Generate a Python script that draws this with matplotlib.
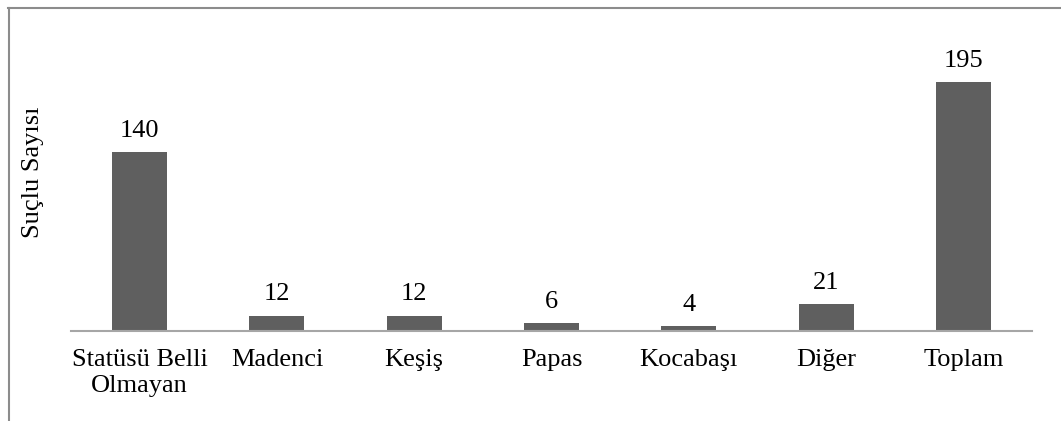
import matplotlib.pyplot as plt
from matplotlib.lines import Line2D

categories = ["Statüsü Belli\nOlmayan", "Madenci", "Keşiş", "Papas", "Kocabaşı", "Diğer", "Toplam"]
counts = [140, 12, 12, 6, 4, 21, 195]

plt.rcParams['font.family'] = ['Liberation Serif', 'DejaVu Serif']

W, H = 1061, 421
fs = 19
fig = plt.figure(figsize=(W / 100, H / 100), dpi=100)
ax = fig.add_axes([71 / W, 90 / H, (1032 - 71) / W, 319.5 / H])

x = range(len(categories))
ax.bar(x, counts, width=0.4, color='#5f5f5f')
for i, v in zip(x, counts):
    ax.text(i, v + 8, str(v), ha='center', va='bottom', fontsize=fs)

ax.set_xlim(-0.5, len(categories) - 0.5)
ax.set_ylim(0, 250)
ax.set_xticks(list(x))
ax.set_xticklabels(categories, fontsize=fs, linespacing=1.25)
ax.tick_params(axis='x', length=0, pad=13)
ax.set_yticks([])
for s in ['top', 'right', 'left']:
    ax.spines[s].set_visible(False)
ax.spines['bottom'].set_color('#a6a6a6')
ax.spines['bottom'].set_linewidth(1.5)

fig.text(33 / W, (H - 172) / H, "Suçlu Sayısı", rotation=90, ha='center', va='center', fontsize=fs)

# outer chart frame (only top and left edges visible)
fig.add_artist(Line2D([8 / W, 1], [(H - 7.5) / H] * 2, color='#8c8c8c', lw=1.5))
fig.add_artist(Line2D([8.5 / W] * 2, [0, (H - 7.5) / H], color='#8c8c8c', lw=1.5))

fig.savefig('out.png', dpi=100)
